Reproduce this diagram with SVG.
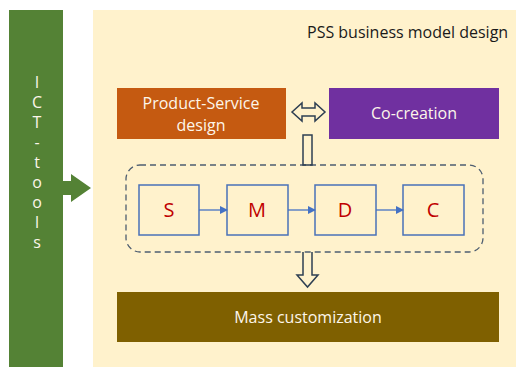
<svg xmlns="http://www.w3.org/2000/svg" width="516" height="367" viewBox="0 0 516 367">
<style>
text{font-family:"Open Sans","Liberation Sans",sans-serif}
.w{fill:#fdf6ea;font-size:16px;text-anchor:middle}
.r{fill:#c00000;font-size:20px;text-anchor:middle}
.box{fill:none;stroke:#4a72b8;stroke-width:1.5}
.blk{fill:none;stroke:#2e3f52;stroke-width:1.5}
</style>
<defs>
<marker id="ah" markerWidth="8" markerHeight="8" refX="7" refY="4" orient="auto" markerUnits="userSpaceOnUse">
<path d="M0,0 L8,4 L0,8 z" fill="#4472c4"/>
</marker>
</defs>
<rect x="0" y="0" width="516" height="367" fill="#ffffff"/>
<rect x="93" y="10" width="423" height="357" fill="#fff2cc"/>
<g id="ict">
<rect x="9" y="10" width="54" height="357" fill="#548235"/>
<path d="M63,181 H71 V174 L91,188 L71,202 V195 H63 z" fill="#548235"/>
<text class="w" x="37" style="font-size:16px"><tspan x="37" y="88">I</tspan><tspan x="37" y="108">C</tspan><tspan x="37" y="128">T</tspan><tspan x="37" y="148">-</tspan><tspan x="37" y="168">t</tspan><tspan x="37" y="188">o</tspan><tspan x="37" y="208">o</tspan><tspan x="37" y="228">l</tspan><tspan x="37" y="248">s</tspan></text>
</g>
<g id="title"><text x="307" y="38" font-size="16" fill="#1a1a1a">PSS business model design</text></g>
<g id="psd">
<rect x="117" y="88" width="169" height="51" fill="#c55a11"/>
<text class="w" x="201" y="109">Product-Service</text>
<text class="w" x="201" y="131">design</text>
</g>
<g id="cocreation">
<rect x="329" y="88" width="170" height="51" fill="#7030a0"/>
<text class="w" x="414" y="119">Co-creation</text>
</g>
<g id="group">
<rect x="126" y="165" width="357" height="87" rx="14" ry="14" fill="none" stroke="#4d5d70" stroke-width="1.3" stroke-dasharray="6,4"/>
</g>
<g id="S"><rect class="box" x="139" y="185" width="60" height="50"/><text class="r" x="169" y="217">S</text></g>
<g id="M"><rect class="box" x="227" y="185" width="61" height="50"/><text class="r" x="257" y="217">M</text></g>
<g id="D"><rect class="box" x="315" y="185" width="61" height="50"/><text class="r" x="345" y="217">D</text></g>
<g id="C"><rect class="box" x="403" y="185" width="61" height="50"/><text class="r" x="433" y="217">C</text></g>
<g id="mass">
<rect x="117" y="292" width="382" height="50" fill="#7f6000"/>
<text class="w" x="308" y="323">Mass customization</text>
</g>
<g id="connectors">
<line x1="199" y1="210" x2="227" y2="210" stroke="#4472c4" stroke-width="1.3" marker-end="url(#ah)"/>
<line x1="288" y1="210" x2="315" y2="210" stroke="#4472c4" stroke-width="1.3" marker-end="url(#ah)"/>
<line x1="376" y1="210" x2="403" y2="210" stroke="#4472c4" stroke-width="1.3" marker-end="url(#ah)"/>
<path class="blk" d="M292,112 L302,103 V108 H315 V103 L325,112 L315,121 V116 H302 V121 z"/>
<rect class="blk" x="303" y="135" width="9" height="30" fill="#fff2cc"/>
<path class="blk" d="M303,252 V275 H297 L307.5,287 L318,275 H312 V252"/>
</g>
</svg>
